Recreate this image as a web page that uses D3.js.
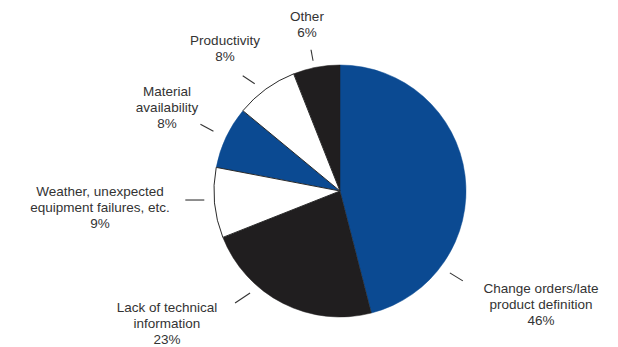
<!DOCTYPE html>
<html><head><meta charset="utf-8">
<script src="https://cdn.jsdelivr.net/npm/d3@7"></script>
<style>html,body{margin:0;padding:0;background:#fff;}</style>
</head><body>
<svg id="chart" width="618" height="347"></svg>
<script>
// ---- data ----
const categories = ["Change orders/late product definition", "Lack of technical information",
  "Weather, unexpected equipment failures, etc.", "Material availability", "Productivity", "Other"];
const values = [46, 23, 9, 8, 8, 6];
const labelLines = [
  ["Change orders/late", "product definition", "46%"],
  ["Lack of technical", "information", "23%"],
  ["Weather, unexpected", "equipment failures, etc.", "9%"],
  ["Material", "availability", "8%"],
  ["Productivity", "8%"],
  ["Other", "6%"]
];
const sliceColors = ["#0b4a92", "#201e1f", "#ffffff", "#0b4a92", "#ffffff", "#201e1f"];

// ---- layout (positions only) ----
const cx = 340, cy = 191, R = 126;
// text centre x, first baseline y; leader: angle (deg clockwise from top), radius, vector
const labelLayout = [
  {x: 541, y: 293, ang: 126.7, r: 137, vx: 13, vy: 8},
  {x: 167, y: 312, ang: 221.4, r: 136, vx: -15, vy: 10},
  {x: 100, y: 196, ang: 266.2, r: 136, vx: -19, vy: 0},
  {x: 167, y: 96,  ang: 295.3, r: 140, vx: -13, vy: -7},
  {x: 225, y: 45,  ang: 321.5, r: 137, vx: -12, vy: -8},
  {x: 307, y: 21,  ang: 348.3, r: 133, vx: -2, vy: -11}
];
const lineH = 15.8;

const svg = d3.select("#chart");
const g = svg.append("g").attr("transform", `translate(${cx},${cy})`);

const pie = d3.pie().value(d => d).sort(null);
const arcs = pie(values).map((a, i) => ({...a, i}));
const arc = d3.arc().innerRadius(0).outerRadius(R);

// draw coloured slices first, white slices last so their outline shows
const order = arcs.slice().sort((a, b) => (sliceColors[a.i] === "#ffffff") - (sliceColors[b.i] === "#ffffff"));
g.selectAll("path.slice").data(order).join("path")
  .attr("class", "slice")
  .attr("d", arc)
  .attr("fill", d => sliceColors[d.i])
  .attr("stroke", d => sliceColors[d.i] === "#ffffff" ? "#2a2a2a" : sliceColors[d.i])
  .attr("stroke-width", d => sliceColors[d.i] === "#ffffff" ? 1 : 0.5)
  .attr("stroke-linejoin", "round");

// leaders
const rad = deg => deg * Math.PI / 180;
svg.selectAll("line.leader").data(labelLayout).join("line")
  .attr("class", "leader")
  .attr("x1", d => cx + d.r * Math.sin(rad(d.ang)))
  .attr("y1", d => cy - d.r * Math.cos(rad(d.ang)))
  .attr("x2", d => cx + d.r * Math.sin(rad(d.ang)) + d.vx)
  .attr("y2", d => cy - d.r * Math.cos(rad(d.ang)) + d.vy)
  .attr("stroke", "#333").attr("stroke-width", 1.1);

// labels: one text element per line
svg.selectAll("g.lbl").data(labelLines).join("g")
  .attr("class", "lbl")
  .each(function(lines, i) {
    const L = labelLayout[i];
    d3.select(this).selectAll("text").data(lines).join("text")
      .attr("text-anchor", "middle")
      .attr("font-family", "'Liberation Sans', Arial, sans-serif")
      .attr("font-size", 13.5)
      .attr("fill", "#333")
      .attr("x", L.x)
      .attr("y", (d, j) => L.y + j * lineH)
      .text(d => d);
  });
</script>
</body></html>
